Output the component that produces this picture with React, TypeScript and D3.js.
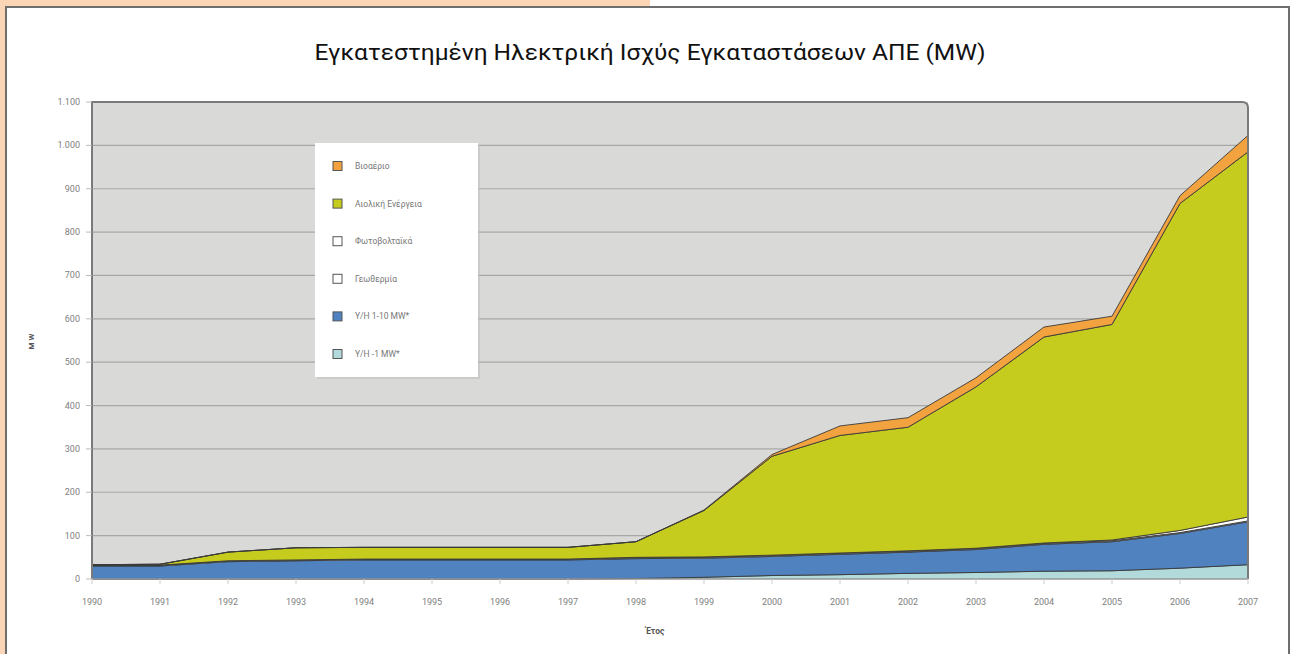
import React from "react";
import * as d3 from "d3";

const years = [1990,1991,1992,1993,1994,1995,1996,1997,1998,1999,2000,2001,2002,2003,2004,2005,2006,2007];
const hydroSmall = [0,0,0,0,0,0,0,0,1,4,8,10,13,15,18,19,25,33];
const hydroMid = [30,30,40,42,44,44,44,44,46,44,44,47,49,53,62,67,80,99];
const geothermal = [2,2,2,2,2,2,2,2,2,2,2,2,2,2,2,2,2,2];
const photovoltaic = [0,0,0,0,0,0,0,0,1,1,1,1,1,1,1,2,5,9];
const wind = [1,2,20,28,27,27,27,27,36,107,228,271,285,372,475,497,754,842];
const biogas = [0,0,0,0,0,0,0,0,0,1,4,22,22,21,23,19,18,38];

const seriesKeys = ["hydroSmall","hydroMid","geothermal","photovoltaic","wind","biogas"];
const seriesColors: Record<string,string> = {
  hydroSmall: "#B2DADA",
  hydroMid: "#4F82BF",
  geothermal: "#FFFFFF",
  photovoltaic: "#FFFFFF",
  wind: "#C6CC1E",
  biogas: "#F2A23E",
};
const legendItems = [
  { key: "biogas", label: "Βιοαέριο" },
  { key: "wind", label: "Αιολική Ενέργεια" },
  { key: "photovoltaic", label: "Φωτοβολταϊκά" },
  { key: "geothermal", label: "Γεωθερμία" },
  { key: "hydroMid", label: "Υ/Η 1-10 MW*" },
  { key: "hydroSmall", label: "Υ/Η -1 MW*" },
];
const yTicks = [0,100,200,300,400,500,600,700,800,900,1000,1100];
const yTickLabels = ["0","100","200","300","400","500","600","700","800","900","1.000","1.100"];
const title = "Εγκατεστημένη Ηλεκτρική Ισχύς Εγκαταστάσεων ΑΠΕ (MW)";
const xTitle = "Έτος";
const yTitle = "MW";

export default function App() {
  const W = 1292, H = 654;
  const left = 92, right = 1248, top = 102, bottom = 579;
  const x = d3.scaleLinear().domain([1990, 2007]).range([left, right]);
  const y = d3.scaleLinear().domain([0, 1100]).range([bottom, top]);

  const rows = years.map((yr, i) => ({
    year: yr,
    hydroSmall: hydroSmall[i],
    hydroMid: hydroMid[i],
    geothermal: geothermal[i],
    photovoltaic: photovoltaic[i],
    wind: wind[i],
    biogas: biogas[i],
  }));
  const stacked = d3.stack<any>().keys(seriesKeys)(rows);
  const area = d3.area<any>()
    .x((d) => x(d.data.year))
    .y0((d) => y(d[0]))
    .y1((d) => y(d[1]));

  const font = "Roboto, 'Open Sans', sans-serif";
  const r = 6;
  const framePath = `M${left},${bottom} L${left},${top} L${right - r},${top} Q${right},${top} ${right},${top + r} L${right},${bottom}`;

  return (
    <div style={{ position: "fixed", left: 0, top: 0, width: W, height: H, background: "#fff" }}>
      <svg width={W} height={H} style={{ display: "block" }}>
        <rect x={0} y={0} width={W} height={H} fill="#fff" />
        {/* peach frame */}
        <rect x={0} y={0} width={650} height={6} fill="#FAD6B6" />
        <rect x={0} y={0} width={5} height={H} fill="#FAD6B6" />
        {/* grey border */}
        <line x1={5} x2={1290} y1={7} y2={7} stroke="#6E6E6E" strokeWidth={2} />
        <line x1={6} x2={6} y1={6} y2={H} stroke="#6E6E6E" strokeWidth={2} />
        <line x1={1289} x2={1289} y1={6} y2={H} stroke="#6E6E6E" strokeWidth={2} />

        <text x={650} y={60} textAnchor="middle" fontFamily={font} fontSize={22} fill="#111" textLength={671} lengthAdjust="spacingAndGlyphs">{title}</text>

        {/* plot background */}
        <rect x={left} y={top} width={right - left} height={bottom - top} fill="#D9D9D7" />
        {yTicks.filter((t) => t > 0 && t < 1100).map((t) => (
          <line key={t} x1={left} x2={right} y1={y(t)} y2={y(t)} stroke="#A8A8A8" strokeWidth={1.2} />
        ))}

        {/* stacked areas */}
        {stacked.map((s) => (
          <path key={s.key} d={area(s) as string} fill={seriesColors[s.key]} stroke="#3A3A3A" strokeWidth={0.9} strokeLinejoin="round" />
        ))}

        {/* frame */}
        <path d={framePath} fill="none" stroke="#7A7A7A" strokeWidth={2} />
        <line x1={left} x2={right} y1={bottom} y2={bottom} stroke="#BDBDBD" strokeWidth={1} />

        {/* y axis */}
        {yTicks.map((t, i) => (
          <g key={t}>
            <line x1={left - 6} x2={left} y1={y(t)} y2={y(t)} stroke="#BBB" strokeWidth={1} />
            <text x={left - 12} y={y(t) + 3} textAnchor="end" fontFamily={font} fontSize={9} fill="#808080">{yTickLabels[i]}</text>
          </g>
        ))}
        <text transform={`translate(34,${(top + bottom) / 2}) rotate(-90)`} textAnchor="middle" fontFamily={font} fontSize={8} fontWeight="bold" fill="#555" letterSpacing={2}>{yTitle}</text>

        {/* x axis */}
        {years.map((yr) => (
          <g key={yr}>
            <line x1={x(yr)} x2={x(yr)} y1={bottom} y2={bottom + 5} stroke="#CCC" strokeWidth={1} />
            <text x={x(yr)} y={605} textAnchor="middle" fontFamily={font} fontSize={9} fill="#808080">{yr}</text>
          </g>
        ))}
        <text x={655} y={634} textAnchor="middle" fontFamily={font} fontSize={8.5} fontWeight="bold" fill="#555">{xTitle}</text>

        {/* legend */}
        <rect x={317} y={145} width={163} height={234} fill="#BDBDBD" opacity={0.5} />
        <rect x={315} y={143} width={163} height={234} fill="#fff" />
        {legendItems.map((it, i) => {
          const cy = 166 + i * 37.6;
          return (
            <g key={it.key}>
              <rect x={333} y={cy - 4.5} width={9} height={9} fill={seriesColors[it.key]} stroke="#555" strokeWidth={1} />
              <text x={355} y={cy + 3} fontFamily={font} fontSize={8.5} fill="#777">{it.label}</text>
            </g>
          );
        })}
      </svg>
    </div>
  );
}
